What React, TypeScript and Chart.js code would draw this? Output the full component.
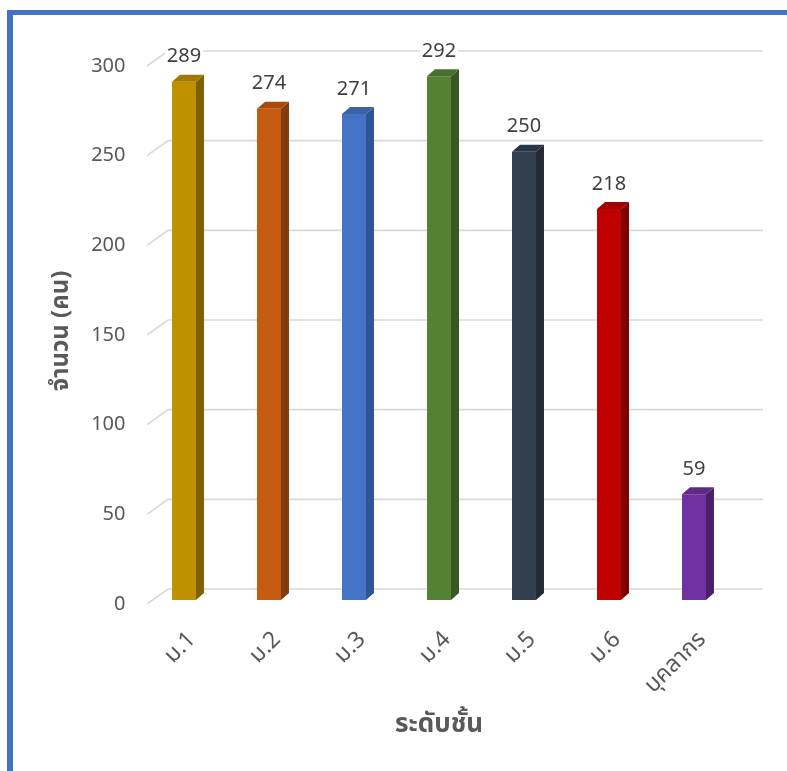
import React, { useEffect, useRef } from "react";
import { Chart, registerables } from "chart.js";

Chart.register(...registerables);

const categories = ["ม.1", "ม.2", "ม.3", "ม.4", "ม.5", "ม.6", "บุคลากร"];
const values = [289, 274, 271, 292, 250, 218, 59];
const frontColors = ["#BF9000", "#C55A11", "#4472C4", "#548235", "#323F4F", "#C00000", "#7030A0"];
const topColors = ["#A27A00", "#A84C0E", "#3A61A7", "#476F2D", "#2A3543", "#A30000", "#5F2988"];
const sideColors = ["#7F6000", "#843C0C", "#2F5597", "#385723", "#222A35", "#800000", "#4B2069"];
const yTicks = [0, 50, 100, 150, 200, 250, 300];
const yTitle = "จำนวน (คน)";
const xTitle = "ระดับชั้น";

const FONT = "'Noto Sans', 'Noto Sans Thai', 'Leelawadee UI', sans-serif";
const DX = 8;
const DY = 7;

const decor = {
  id: "decor3d",
  beforeDraw(chart: any) {
    const ctx = chart.ctx;
    ctx.save();
    ctx.fillStyle = "#ffffff";
    ctx.fillRect(0, 0, chart.width, chart.height);
    ctx.fillStyle = "#4472C4";
    ctx.fillRect(7, 10, chart.width, 5);
    ctx.fillRect(7, 10, 6, chart.height);
    ctx.restore();
  },
  beforeDatasetsDraw(chart: any) {
    const ctx = chart.ctx;
    const y = chart.scales.y;
    const area = chart.chartArea;
    ctx.save();
    ctx.strokeStyle = "#D9D9D9";
    ctx.lineWidth = 1.6;
    for (const v of yTicks) {
      const py = y.getPixelForValue(v);
      const fy = py + 4;
      const by = py - 11;
      const fx = area.left + 5.5;
      const bx = area.left + 26.5;
      ctx.beginPath();
      ctx.moveTo(fx, fy);
      ctx.lineTo(bx, by);
      ctx.lineTo(area.right + 26.5, by);
      ctx.stroke();
    }
    ctx.restore();
  },
  afterDatasetsDraw(chart: any) {
    const ctx = chart.ctx;
    const meta = chart.getDatasetMeta(0);
    ctx.save();
    meta.data.forEach((bar: any, i: number) => {
      const { x, y, base, width } = bar.getProps(["x", "y", "base", "width"], true);
      const l = x - width / 2;
      const r = x + width / 2;
      ctx.fillStyle = sideColors[i];
      ctx.beginPath();
      ctx.moveTo(r, y);
      ctx.lineTo(r + DX, y - DY);
      ctx.lineTo(r + DX, base - DY);
      ctx.lineTo(r, base);
      ctx.closePath();
      ctx.fill();
      ctx.fillStyle = topColors[i];
      ctx.beginPath();
      ctx.moveTo(l, y);
      ctx.lineTo(l + DX, y - DY);
      ctx.lineTo(r + DX, y - DY);
      ctx.lineTo(r, y);
      ctx.closePath();
      ctx.fill();
      const text = String(values[i]);
      ctx.font = `20px ${FONT}`;
      const tw = ctx.measureText(text).width;
      const cy = y - 25;
      ctx.fillStyle = "#ffffff";
      ctx.fillRect(x - tw / 2 - 2, cy - 10, tw + 4, 20);
      ctx.fillStyle = "#404040";
      ctx.textAlign = "center";
      ctx.textBaseline = "middle";
      ctx.fillText(text, x, cy);
    });
    ctx.restore();
  },
};

export default function App() {
  const ref = useRef<HTMLCanvasElement | null>(null);
  useEffect(() => {
    if (!ref.current) return;
    const chart = new Chart(ref.current, {
      type: "bar",
      data: {
        labels: categories,
        datasets: [
          {
            data: values,
            backgroundColor: frontColors,
            borderWidth: 0,
            barPercentage: 0.6,
            categoryPercentage: 0.47,
          },
        ],
      },
      options: {
        animation: false,
        responsive: false,
        devicePixelRatio: 1,
        layout: { padding: { left: 0, top: 62, right: 50.5, bottom: 0 } },
        plugins: { legend: { display: false }, tooltip: { enabled: false } },
        scales: {
          x: {
            grid: { display: false, drawTicks: false },
            border: { display: false },
            ticks: {
              color: "#595959",
              font: { family: FONT, size: 23 },
              minRotation: 45,
              maxRotation: 45,
              padding: 26,
              labelOffset: 8,
            },
            title: {
              display: true,
              text: xTitle,
              color: "#595959",
              font: { family: FONT, size: 26, weight: "bold" },
              padding: { top: 0, bottom: 31 },
            },
            afterFit(scale: any) {
              scale.height = 171;
            },
          },
          y: {
            min: 0,
            max: 300,
            grid: { display: false, drawTicks: false },
            border: { display: false },
            ticks: {
              stepSize: 50,
              color: "#595959",
              font: { family: FONT, size: 20 },
              padding: 16,
              labelOffset: 4,
            },
            title: {
              display: true,
              text: yTitle,
              color: "#595959",
              font: { family: FONT, size: 24, weight: "bold" },
              padding: { top: 47, bottom: 0 },
            },
            afterFit(scale: any) {
              scale.width = 141.5;
            },
          },
        },
      },
      plugins: [decor],
    });
    return () => chart.destroy();
  }, []);
  return (
    <canvas
      ref={ref}
      width={787}
      height={771}
      style={{ position: "fixed", left: 0, top: 0, width: 787, height: 771 }}
    />
  );
}
